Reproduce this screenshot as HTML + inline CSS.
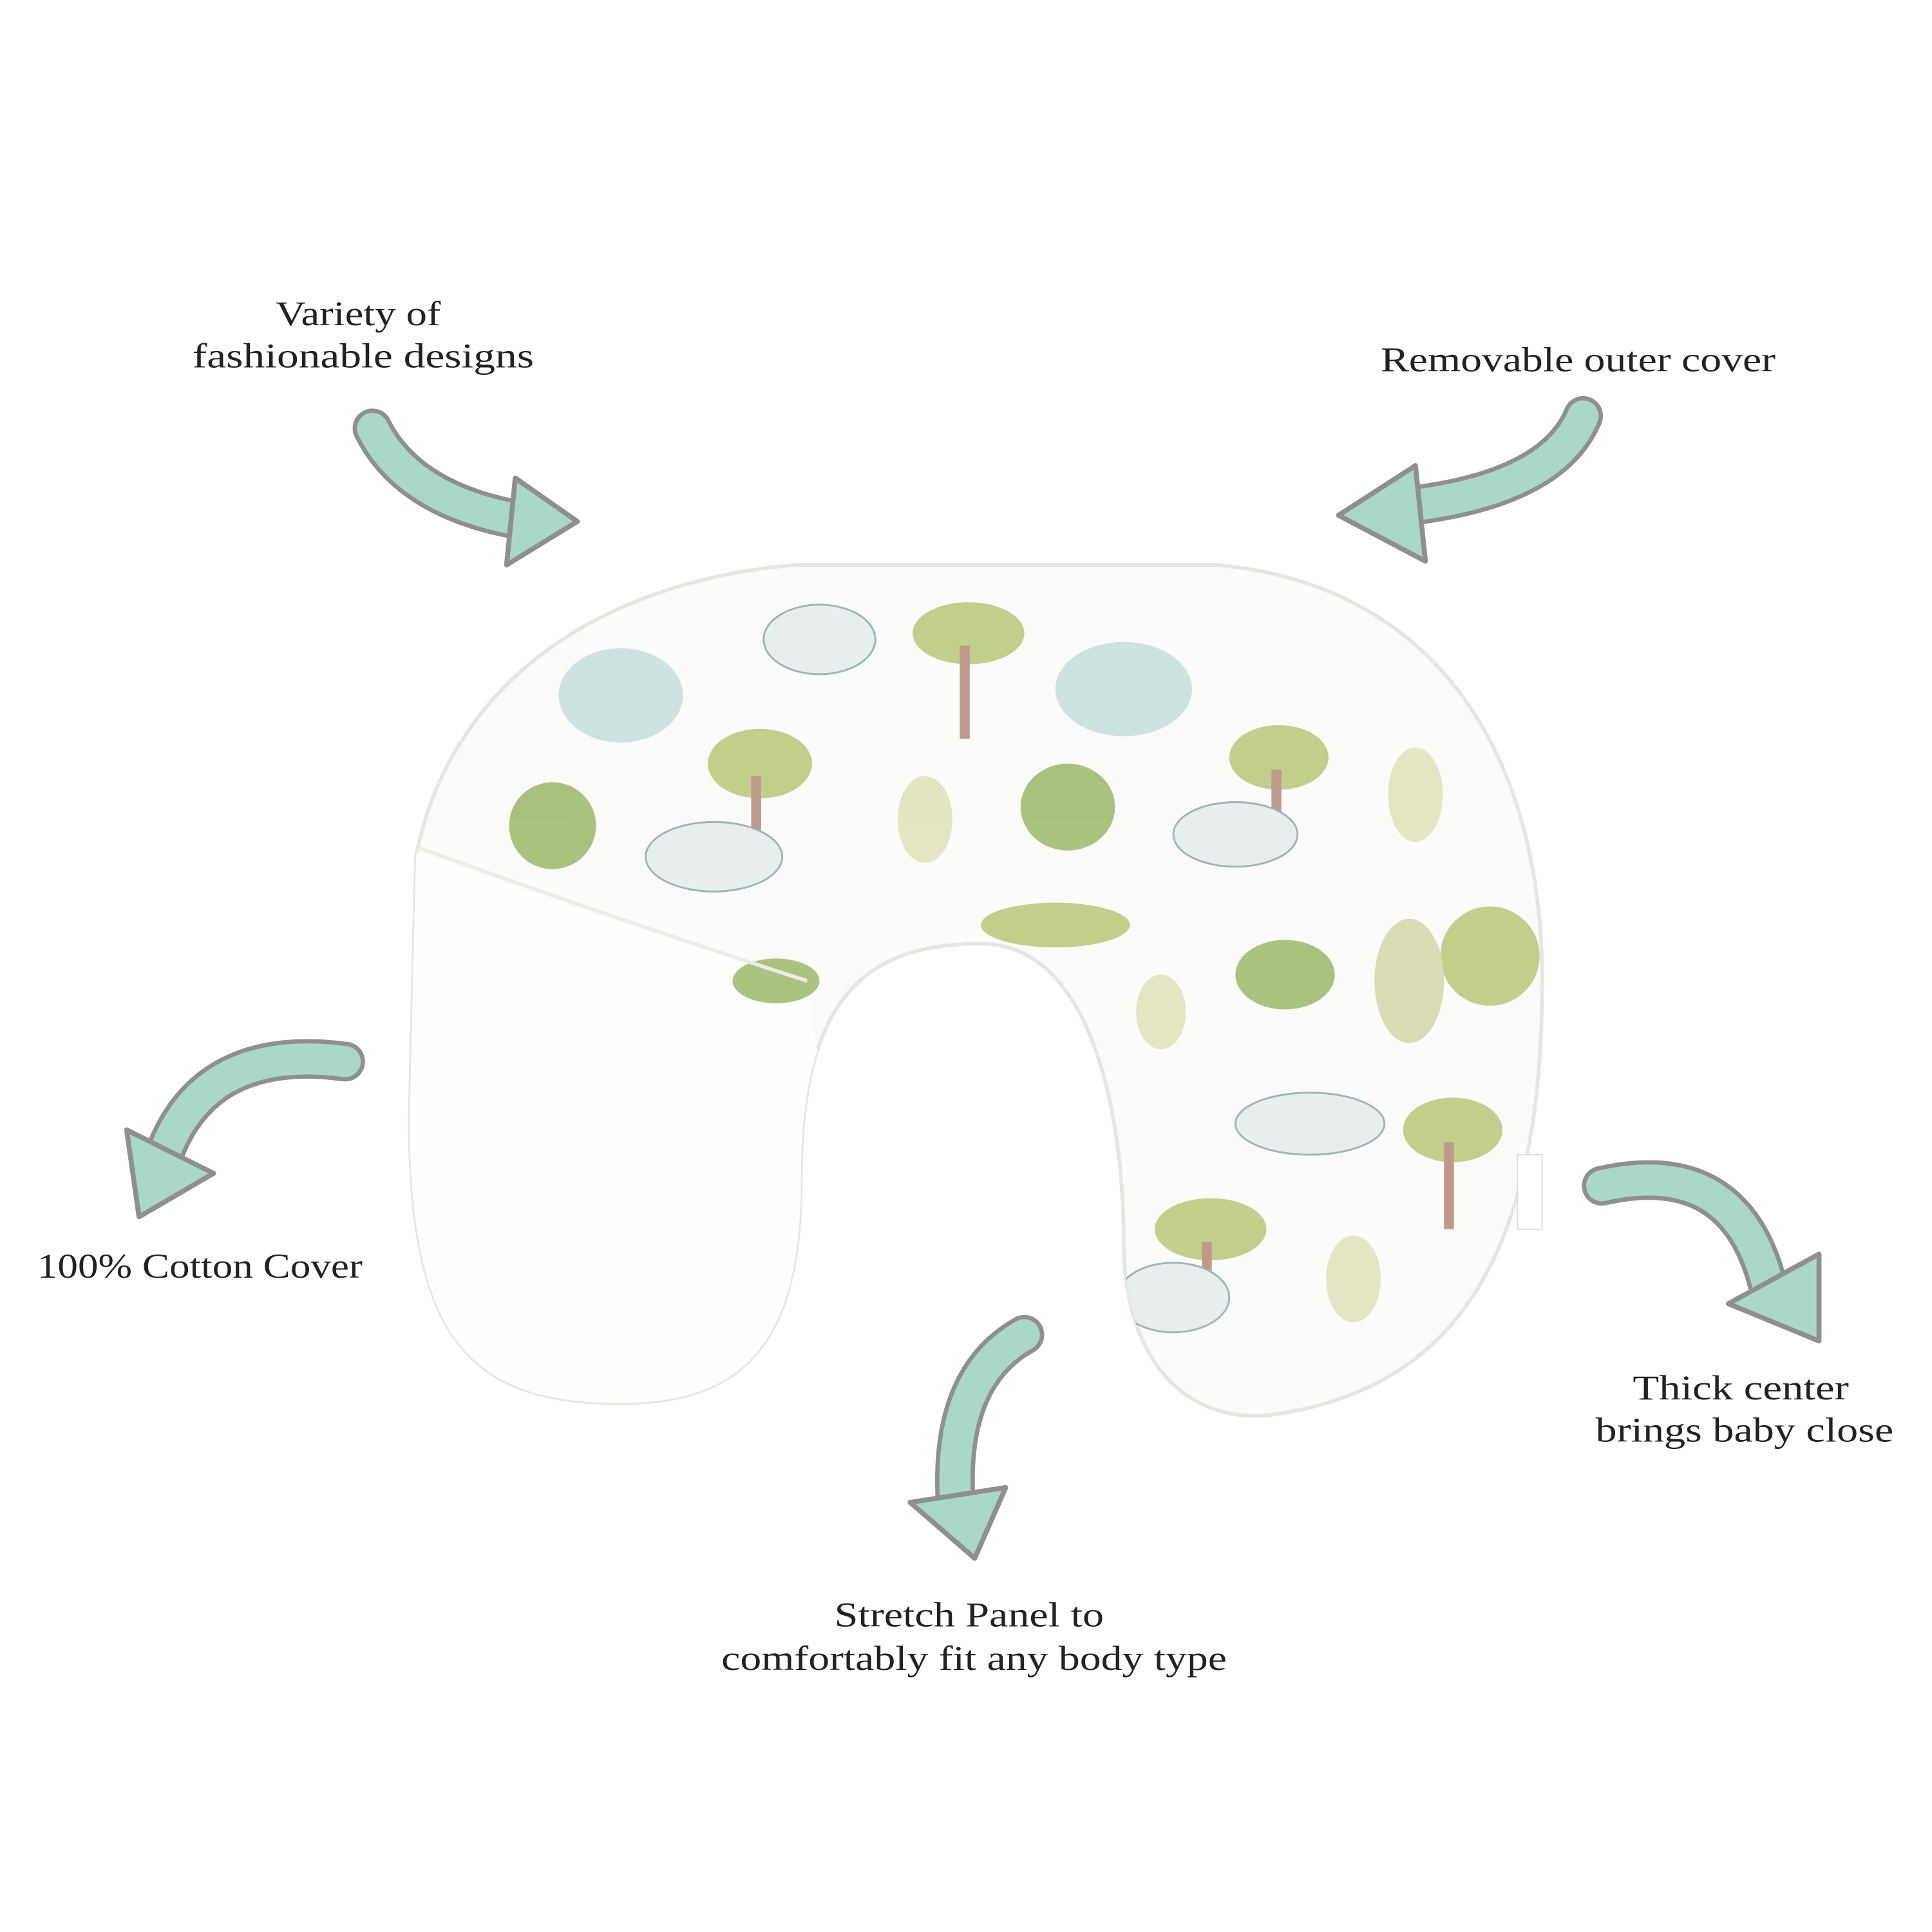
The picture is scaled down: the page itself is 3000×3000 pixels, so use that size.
<!DOCTYPE html>
<html><head><meta charset="utf-8"><style>
html,body{margin:0;padding:0;background:#fff;}
svg{display:block;}
text{font-family:"Liberation Serif",serif;font-size:28px;fill:#222;text-anchor:start;}
</style></head><body>
<svg width="3000" height="3000" viewBox="0 0 1556 1556" xmlns="http://www.w3.org/2000/svg">
<defs>
<clipPath id="pc"><path d="M335 690 C360 560 470 470 640 455 L980 455 C1150 470 1245 600 1242 800 C1240 1000 1180 1120 1020 1140 C950 1145 905 1090 905 1000 C905 900 880 760 790 760 C700 760 645 800 645 950 C645 1080 600 1130 500 1130 C380 1130 330 1080 330 900 Z"/></clipPath>
</defs>
<path d="M335 690 C360 560 470 470 640 455 L980 455 C1150 470 1245 600 1242 800 C1240 1000 1180 1120 1020 1140 C950 1145 905 1090 905 1000 C905 900 880 760 790 760 C700 760 645 800 645 950 C645 1080 600 1130 500 1130 C380 1130 330 1080 330 900 Z" fill="#fbfbf9" stroke="#e6e6e2" stroke-width="3"/>
<g clip-path="url(#pc)">
<path d="M320 680 Q480 740 650 790 L700 1140 L300 1140 Z" fill="#fefefe"/>
<g opacity="0.85">
<ellipse cx="500" cy="560" rx="50" ry="38" fill="#c5dedd"/>
<ellipse cx="905" cy="555" rx="55" ry="38" fill="#c5dedd"/>
<ellipse cx="780" cy="510" rx="45" ry="25" fill="#b7c779"/><rect x="773" y="520" width="8" height="75" fill="#b58a7a"/>
<ellipse cx="612" cy="615" rx="42" ry="28" fill="#b7c779"/><rect x="605" y="625" width="8" height="50" fill="#b58a7a"/>
<ellipse cx="1030" cy="610" rx="40" ry="26" fill="#b7c779"/><rect x="1024" y="620" width="8" height="40" fill="#b58a7a"/>
<ellipse cx="1170" cy="910" rx="40" ry="26" fill="#b7c779"/><rect x="1163" y="920" width="8" height="70" fill="#b58a7a"/>
<ellipse cx="975" cy="990" rx="45" ry="25" fill="#b7c779"/><rect x="968" y="1000" width="8" height="40" fill="#b58a7a"/>
<ellipse cx="1200" cy="770" rx="40" ry="40" fill="#b7c779"/>
<ellipse cx="1135" cy="790" rx="28" ry="50" fill="#d4d7a8"/>
<ellipse cx="445" cy="665" rx="35" ry="35" fill="#9bb86a"/>
<ellipse cx="860" cy="650" rx="38" ry="35" fill="#9bb86a"/>
<ellipse cx="1035" cy="785" rx="40" ry="28" fill="#9bb86a"/>
<ellipse cx="625" cy="790" rx="35" ry="18" fill="#9bb86a"/>
<ellipse cx="850" cy="745" rx="60" ry="18" fill="#b7c779"/>
<ellipse cx="660" cy="515" rx="45" ry="28" fill="#e4ecec" stroke="#8aa" stroke-width="1.5"/>
<ellipse cx="575" cy="690" rx="55" ry="28" fill="#e4ecec" stroke="#8aa" stroke-width="1.5"/>
<ellipse cx="995" cy="672" rx="50" ry="26" fill="#e4ecec" stroke="#8aa" stroke-width="1.5"/>
<ellipse cx="1055" cy="905" rx="60" ry="25" fill="#e4ecec" stroke="#8aa" stroke-width="1.5"/>
<ellipse cx="745" cy="660" rx="22" ry="35" fill="#dfe0b8"/>
<ellipse cx="1140" cy="640" rx="22" ry="38" fill="#dfe0b8"/>
<ellipse cx="1090" cy="1030" rx="22" ry="35" fill="#dfe0b8"/>
<ellipse cx="935" cy="815" rx="20" ry="30" fill="#dfe0b8"/>
<ellipse cx="945" cy="1045" rx="45" ry="28" fill="#e4ecec" stroke="#8aa" stroke-width="1.5"/>
</g>
<path d="M330 680 Q480 735 650 790" fill="none" stroke="#ebebe7" stroke-width="3"/>
</g>
<rect x="1222" y="930" width="20" height="60" fill="#fff" stroke="#ddd"/>
<g stroke-linejoin="round" stroke-linecap="round">
<g fill="none">
<path d="M300 345 Q330 405 425 420" stroke="#8f8f8f" stroke-width="32"/>
<path d="M1275 335 Q1250 395 1130 408" stroke="#8f8f8f" stroke-width="32"/>
<path d="M278 855 Q165 840 132 930" stroke="#8f8f8f" stroke-width="32"/>
<path d="M1290 955 Q1400 930 1425 1040" stroke="#8f8f8f" stroke-width="32"/>
<path d="M825 1075 Q762 1110 770 1215" stroke="#8f8f8f" stroke-width="32"/>
<path d="M300 345 Q330 405 425 420" stroke="#a9d8c7" stroke-width="25"/>
<path d="M1275 335 Q1250 395 1130 408" stroke="#a9d8c7" stroke-width="25"/>
<path d="M278 855 Q165 840 132 930" stroke="#a9d8c7" stroke-width="25"/>
<path d="M1290 955 Q1400 930 1425 1040" stroke="#a9d8c7" stroke-width="25"/>
<path d="M825 1075 Q762 1110 770 1215" stroke="#a9d8c7" stroke-width="25"/>
</g>
<g fill="#a9d8c7" stroke="#8f8f8f" stroke-width="4">
<polygon points="415,385 465,420 408,455"/>
<polygon points="1140,375 1078,415 1148,452"/>
<polygon points="102,910 112,980 172,945"/>
<polygon points="1392,1050 1465,1080 1465,1010"/>
<polygon points="733,1210 785,1255 810,1198"/>
</g>
</g>
<text x="222" y="262" textLength="133" lengthAdjust="spacingAndGlyphs">Variety of</text>
<text x="155" y="296" textLength="275" lengthAdjust="spacingAndGlyphs">fashionable designs</text>
<text x="1112" y="299" textLength="318" lengthAdjust="spacingAndGlyphs">Removable outer cover</text>
<text x="30" y="1029" textLength="262" lengthAdjust="spacingAndGlyphs">100% Cotton Cover</text>
<text x="1315" y="1127" textLength="174" lengthAdjust="spacingAndGlyphs">Thick center</text>
<text x="1285" y="1161" textLength="240" lengthAdjust="spacingAndGlyphs">brings baby close</text>
<text x="672" y="1310" textLength="217" lengthAdjust="spacingAndGlyphs">Stretch Panel to</text>
<text x="581" y="1345" textLength="407" lengthAdjust="spacingAndGlyphs">comfortably fit any body type</text>
</svg>
</body></html>
